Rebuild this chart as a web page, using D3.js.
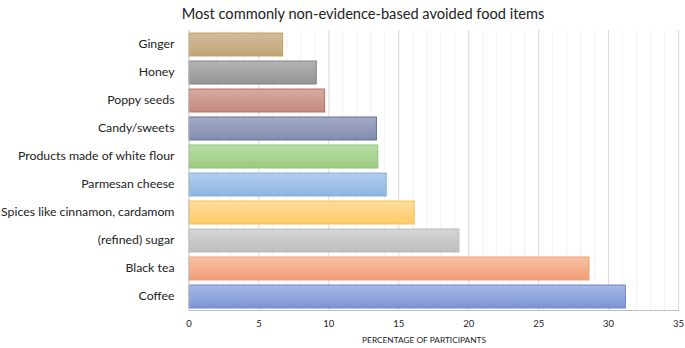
<!DOCTYPE html>
<html>
<head>
<meta charset="utf-8">
<script src="https://cdn.jsdelivr.net/npm/d3@7"></script>
<style>
  body { margin: 0; background: #fff; }
  text { font-family: Lato, "Open Sans", sans-serif; fill: #222; }
</style>
</head>
<body>
<svg id="chart"></svg>
<script>
const categories = ['Ginger', 'Honey', 'Poppy seeds', 'Candy/sweets', 'Products made of white flour',
  'Parmesan cheese', 'Spices like cinnamon, cardamom', '(refined) sugar', 'Black tea', 'Coffee'];
const values = [6.7, 9.1, 9.7, 13.4, 13.5, 14.1, 16.1, 19.3, 28.6, 31.2];
const xTicks = [0, 5, 10, 15, 20, 25, 30, 35];
const topColors = ['#d2bb9c', '#b3b3b3', '#d5aba1', '#a3abc6', '#badea7', '#b3cfec', '#ffdd9b', '#d6d6d6', '#f7c2a4', '#a9b9e5'];
const bottomColors = ['#c2a577', '#959595', '#c4887b', '#828cae', '#9bca7e', '#8db5e1', '#ffcb66', '#bebebe', '#f19e75', '#7b94d5'];
const strokeColors = ['#bfa058', '#838383', '#b56f5c', '#62709b', '#8fc478', '#85afdc', '#f4c04a', '#bbbbbb', '#eda07a', '#6a87d0'];

const w = 685, h = 348;
const margin = { top: 30, right: 7, bottom: 38, left: 188.5 };

const svg = d3.select('#chart')
  .attr('width', w)
  .attr('height', h);

const xScale = d3.scaleLinear()
  .domain([0, 35])
  .range([margin.left, w - margin.right]);
const yScale = d3.scaleBand()
  .domain(categories)
  .range([margin.top, h - margin.bottom])
  .paddingInner(0.18)
  .paddingOuter(0.09);

// gradients
const defs = svg.append('defs');
categories.forEach((c, i) => {
  const g = defs.append('linearGradient')
    .attr('id', 'grad' + i)
    .attr('x1', 0).attr('y1', 0).attr('x2', 0).attr('y2', 1);
  g.append('stop').attr('offset', '0%').attr('stop-color', topColors[i]);
  g.append('stop').attr('offset', '100%').attr('stop-color', bottomColors[i]);
});

// minor gridlines
svg.append('g')
  .selectAll('line')
  .data(d3.range(1, 36).filter(d => d % 5 !== 0))
  .join('line')
  .attr('x1', d => xScale(d) + 0.5).attr('x2', d => xScale(d) + 0.5)
  .attr('y1', margin.top).attr('y2', h - margin.bottom)
  .attr('stroke', '#f2f2f2');

// major gridlines
svg.append('g')
  .selectAll('line')
  .data(xTicks.slice(1))
  .join('line')
  .attr('x1', d => xScale(d) + 0.5).attr('x2', d => xScale(d) + 0.5)
  .attr('y1', margin.top).attr('y2', h - margin.bottom)
  .attr('stroke', '#d9d9d9');

// bars
svg.append('g')
  .selectAll('rect')
  .data(values)
  .join('rect')
  .attr('x', xScale(0) + 0.5)
  .attr('y', (d, i) => yScale(categories[i]) + 0.5)
  .attr('width', d => xScale(d) - xScale(0))
  .attr('height', yScale.bandwidth())
  .attr('fill', (d, i) => `url(#grad${i})`)
  .attr('stroke', (d, i) => strokeColors[i])
  .attr('stroke-width', 1);

// axes lines
svg.append('line')
  .attr('x1', xScale(0) + 0.5).attr('x2', xScale(0) + 0.5)
  .attr('y1', margin.top).attr('y2', h - margin.bottom)
  .attr('stroke', '#bfbfbf');
svg.append('line')
  .attr('x1', xScale(0)).attr('x2', xScale(35) + 1)
  .attr('y1', h - margin.bottom + 0.5).attr('y2', h - margin.bottom + 0.5)
  .attr('stroke', '#bfbfbf');

// x axis labels
const xAxis = d3.axisBottom(xScale)
  .tickValues(xTicks)
  .tickSize(0)
  .tickPadding(10);
svg.append('g')
  .attr('transform', `translate(0, ${h - margin.bottom})`)
  .call(xAxis)
  .call(g => g.select('.domain').remove())
  .call(g => g.selectAll('text')
    .style('font-family', 'Lato, "Open Sans", sans-serif')
    .style('font-size', '9.5px')
    .attr('fill', '#333'));

// y axis labels
const yAxis = d3.axisLeft(yScale)
  .tickSize(0)
  .tickPadding(14);
svg.append('g')
  .attr('transform', `translate(${margin.left}, 0)`)
  .call(yAxis)
  .call(g => g.select('.domain').remove())
  .call(g => g.selectAll('text')
    .style('font-family', 'Lato, "Open Sans", sans-serif')
    .style('font-size', '12.3px')
    .attr('fill', '#222'));

// title
svg.append('text')
  .attr('x', 363)
  .attr('y', 19)
  .attr('text-anchor', 'middle')
  .style('font-size', '14.6px')
  .text('Most commonly non-evidence-based avoided food items');

// axis title
svg.append('text')
  .attr('x', 424)
  .attr('y', 343)
  .attr('text-anchor', 'middle')
  .style('font-size', '8.3px')
  .text('PERCENTAGE OF PARTICIPANTS');
</script>
</body>
</html>
